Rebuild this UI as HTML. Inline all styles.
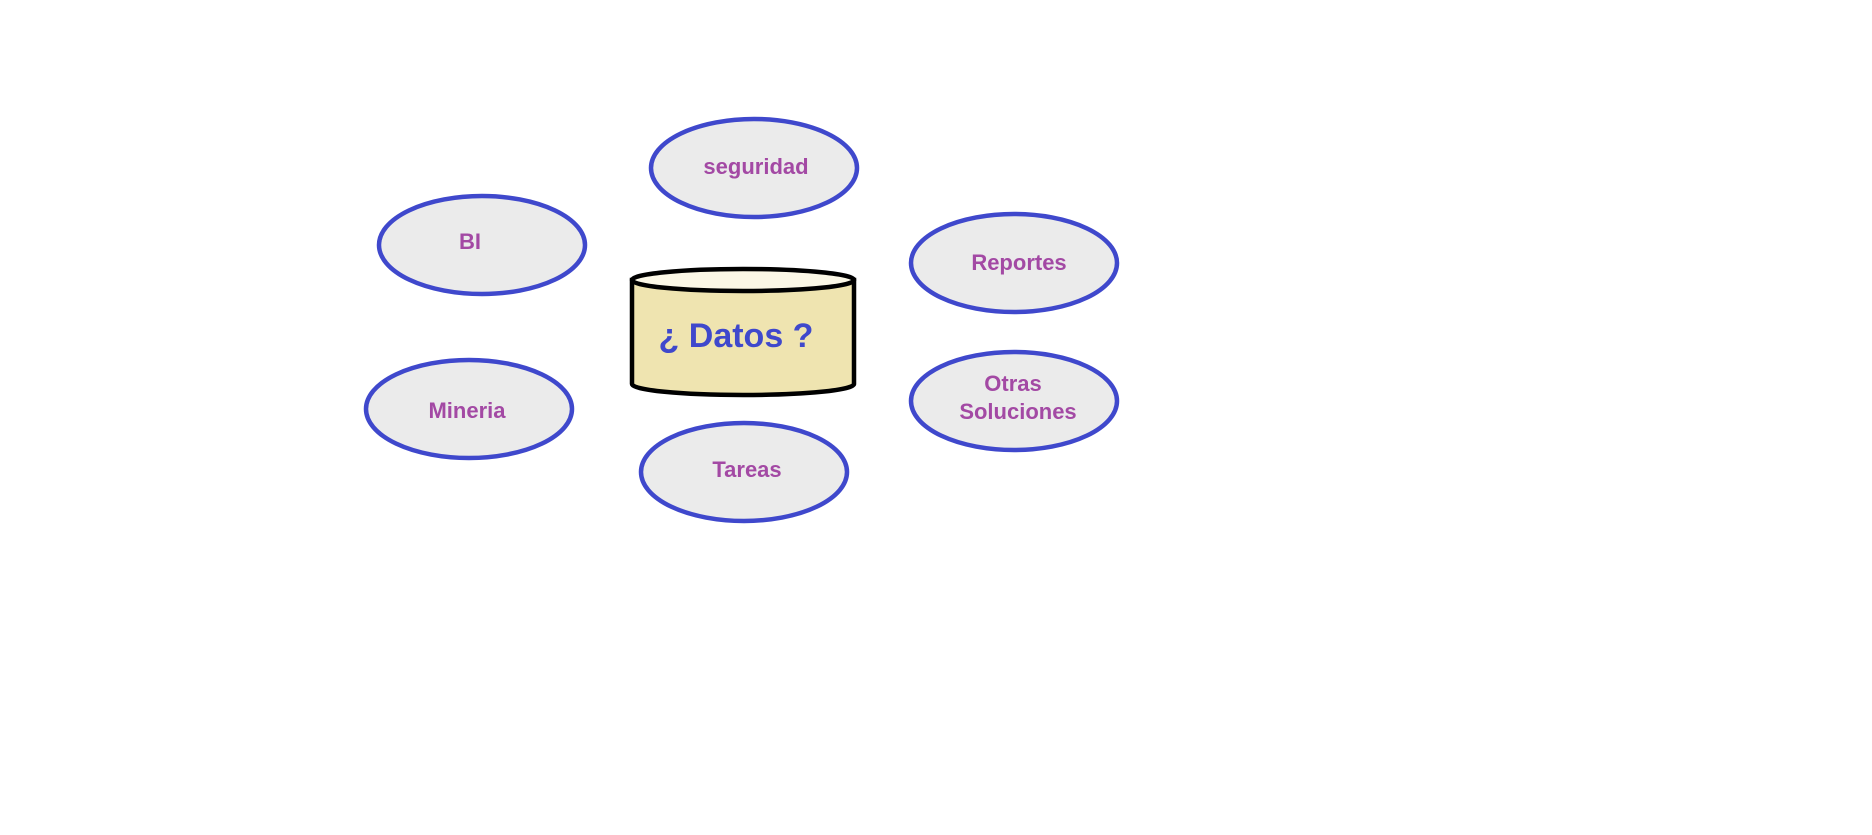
<!DOCTYPE html>
<html><head><style>html,body{margin:0;padding:0;background:#fff;}</style></head>
<body>
<svg width="1872" height="835" xmlns="http://www.w3.org/2000/svg" style="display:block">
<g fill="#ebebeb" stroke="#3f48cc" stroke-width="4.5">
<ellipse cx="754" cy="168" rx="103" ry="49"/>
<ellipse cx="482" cy="245" rx="103" ry="49"/>
<ellipse cx="1014" cy="263" rx="103" ry="49"/>
<ellipse cx="469" cy="409" rx="103" ry="49"/>
<ellipse cx="1014" cy="401" rx="103" ry="49"/>
<ellipse cx="744" cy="472" rx="103" ry="49"/>
</g>
<path d="M632 280 L632 384 A111 11 0 0 0 854 384 L854 280 Z" fill="#efe4b0" stroke="#000" stroke-width="4.5"/>
<ellipse cx="743" cy="280" rx="111" ry="11" fill="#fbf7e6" stroke="#000" stroke-width="4.5"/>
<g font-family="Liberation Sans, sans-serif" font-weight="bold" fill="#a349a4" font-size="22" text-anchor="middle">
<text x="756" y="174">seguridad</text>
<text x="470" y="249">BI</text>
<text x="1019" y="270">Reportes</text>
<text x="467" y="418">Mineria</text>
<text x="1013" y="391">Otras</text>
<text x="1018" y="419">Soluciones</text>
<text x="747" y="477">Tareas</text>
</g>
<text x="736" y="347" text-anchor="middle" font-family="Liberation Sans, sans-serif" font-weight="bold" font-size="34" fill="#3f48cc">¿ Datos ?</text>
</svg>
</body></html>
